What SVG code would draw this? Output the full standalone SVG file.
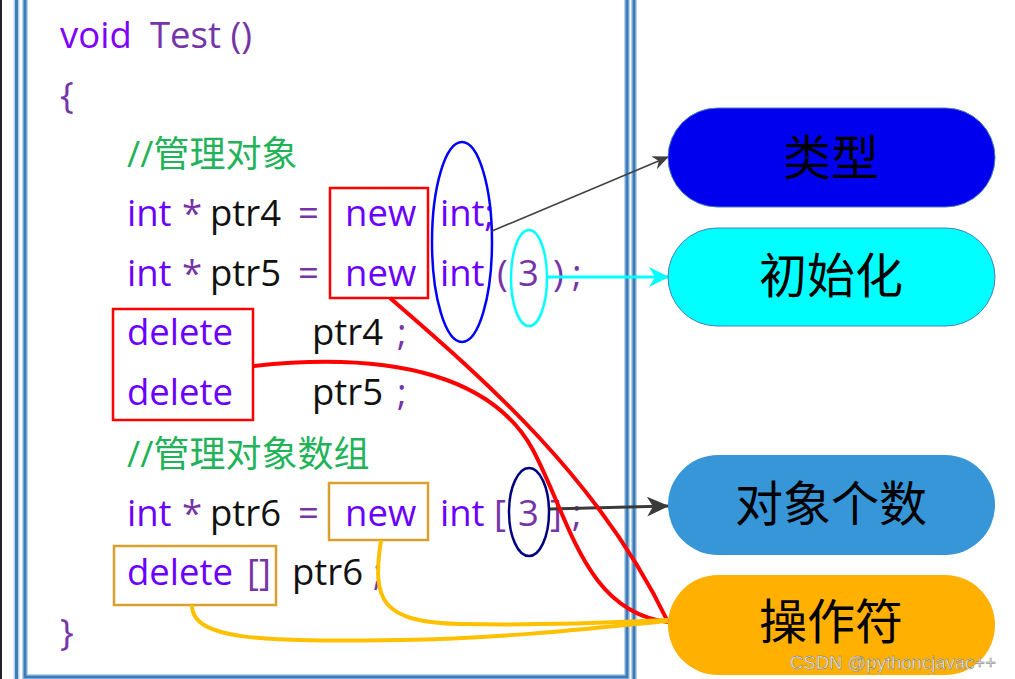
<svg xmlns="http://www.w3.org/2000/svg" width="1015" height="679" viewBox="0 0 1015 679">
<defs>
<style>
.code{font-family:"Open Sans","Noto Sans CJK SC",sans-serif;font-size:36.5px}
.kw{fill:#6A00FF}
.pu{fill:#7535A8}
.bk{fill:#111}
.cm{fill:#22B35A;font-family:"Open Sans","Noto Sans CJK SC",sans-serif;font-size:36px}
.node{font-family:"Noto Sans CJK SC",sans-serif;font-size:48px;fill:#000;text-anchor:middle}
.fr{stroke:#3D7CB6;stroke-width:3;fill:none}
.frh{stroke:#B5D3EE;stroke-width:6;fill:none}
.redc{stroke:#FF0000;stroke-width:4;fill:none}
.orc{stroke:#FFC000;stroke-width:4;fill:none}
</style>
<marker id="ahGray" markerUnits="userSpaceOnUse" markerWidth="16" markerHeight="14" refX="15" refY="7" orient="auto">
<path d="M0,0 L16,7 L0,14 L5,7 z" fill="#404040"/>
</marker>
<marker id="ahCyan" markerUnits="userSpaceOnUse" markerWidth="20" markerHeight="20" refX="19" refY="10" orient="auto">
<path d="M0,0 L20,10 L0,20 L6,10 z" fill="#00FFFF"/>
</marker>
<marker id="ahDark" markerUnits="userSpaceOnUse" markerWidth="22" markerHeight="20" refX="21" refY="10" orient="auto">
<path d="M0,0 L22,10 L0,20 L6,10 z" fill="#3A3A3A"/>
</marker>
</defs>
<rect x="0" y="0" width="1015" height="679" fill="#fff"/>
<rect x="0" y="0" width="2" height="679" fill="#222"/>
<g id="frame">
<path class="frh" d="M16.5,0 V679 M25,0 V677 H627 V0 M634,0 V679"/>
<path class="fr" d="M16.5,0 V679 M25,0 V677 H627 V0 M634,0 V679"/>
</g>
<g id="code">
<text class="code" y="48"><tspan x="60" fill="#8000FF">void</tspan><tspan x="150" class="pu">Test ()</tspan></text>
<text class="code pu" x="60" y="108">{</text>
<text class="cm" x="127" y="167">//管理对象</text>
<text class="code" y="226"><tspan x="127" class="kw">int</tspan><tspan x="182" class="pu">*</tspan><tspan x="210" class="bk">ptr4</tspan><tspan x="298" class="pu">=</tspan><tspan x="345" class="kw">new</tspan><tspan x="440" class="kw">int;</tspan></text>
<text class="code" y="286"><tspan x="127" class="kw">int</tspan><tspan x="182" class="pu">*</tspan><tspan x="210" class="bk">ptr5</tspan><tspan x="298" class="pu">=</tspan><tspan x="345" class="kw">new</tspan><tspan x="440" class="kw">int</tspan><tspan x="497" class="pu">(</tspan><tspan x="518" class="pu">3</tspan><tspan x="553" class="pu">)</tspan><tspan x="572" class="pu">;</tspan></text>
<text class="code" y="345"><tspan x="127" class="kw">delete</tspan><tspan x="312" class="bk">ptr4</tspan><tspan x="397" class="pu">;</tspan></text>
<text class="code" y="405"><tspan x="127" class="kw">delete</tspan><tspan x="312" class="bk">ptr5</tspan><tspan x="397" class="pu">;</tspan></text>
<text class="cm" x="127" y="467">//管理对象数组</text>
<text class="code" y="526"><tspan x="127" class="kw">int</tspan><tspan x="182" class="pu">*</tspan><tspan x="210" class="bk">ptr6</tspan><tspan x="298" class="pu">=</tspan><tspan x="345" class="kw">new</tspan><tspan x="440" class="kw">int</tspan><tspan x="494" class="pu">[</tspan><tspan x="518" class="pu">3</tspan><tspan x="550" class="pu">]</tspan><tspan x="572" class="pu">;</tspan></text>
<text class="code" y="585"><tspan x="127" class="kw">delete</tspan><tspan x="247" class="pu">[]</tspan><tspan x="292" class="bk">ptr6</tspan><tspan x="373" class="pu">;</tspan></text>
<text class="code pu" x="60" y="645">}</text>
</g>
<g id="marks">
<rect x="330" y="188" width="98" height="110" fill="none" stroke="#FF0000" stroke-width="2.5"/>
<rect x="113" y="309" width="140" height="111" fill="none" stroke="#FF0000" stroke-width="2.5"/>
<ellipse cx="462" cy="242" rx="30" ry="100" fill="none" stroke="#0000FF" stroke-width="2.5"/>
<ellipse cx="529" cy="278" rx="18" ry="48" fill="none" stroke="#00FFFF" stroke-width="2.5"/>
<ellipse cx="529" cy="512" rx="20" ry="44" fill="none" stroke="#000080" stroke-width="2.5"/>
<rect x="329" y="483" width="99" height="57" fill="none" stroke="#D9A030" stroke-width="2.5"/>
<rect x="114" y="546" width="162" height="59" fill="none" stroke="#D9A030" stroke-width="2.5"/>
</g>
<g id="connectors">
<line x1="492" y1="231" x2="668" y2="157" stroke="#404040" stroke-width="1.6" marker-end="url(#ahGray)"/>
<line x1="547" y1="277" x2="668" y2="277" stroke="#00FFFF" stroke-width="3" marker-end="url(#ahCyan)"/>
<line x1="550" y1="509" x2="668" y2="506" stroke="#3A3A3A" stroke-width="3" marker-end="url(#ahDark)"/>
<path class="redc" d="M390,298 C485,380 600,480 668,622"/>
<path class="redc" d="M253,366 C400,350 495,380 533,450 C570,520 585,612 668,622"/>
<path class="orc" d="M381,540 C372,600 380,622 460,624 C560,626 640,621 668,620"/>
<path class="orc" d="M192,605 C192,640 260,642 400,640 C520,638 620,625 668,621"/>
</g>
<g id="node-type">
<rect x="668" y="108" width="327" height="99" rx="49.5" fill="#0000EE" stroke="#4A7EBB" stroke-width="1"/>
<text class="node" x="831" y="175">类型</text>
</g>
<g id="node-init">
<rect x="668" y="228" width="327" height="98" rx="49" fill="#00FFFF" stroke="#4A7EBB" stroke-width="1"/>
<text class="node" x="831" y="293">初始化</text>
</g>
<g id="node-count">
<rect x="668" y="455" width="327" height="100" rx="50" fill="#3796D8"/>
<text class="node" x="831" y="521">对象个数</text>
</g>
<g id="node-op">
<rect x="668" y="575" width="327" height="100" rx="50" fill="#FFB000"/>
<text class="node" x="831" y="639">操作符</text>
</g>
<text x="790" y="669" font-family="Liberation Sans, sans-serif" font-size="18.5" fill="#eeeeee" stroke="#666" stroke-width="0.4">CSDN @pythoncjavac++</text>
</svg>
